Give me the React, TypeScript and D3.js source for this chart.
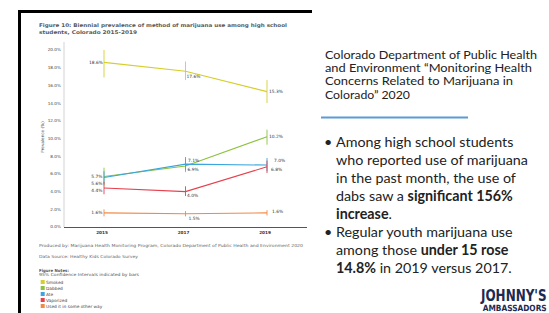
import React from 'react';
import * as d3 from 'd3';

// chart data
const years = ['2015', '2017', '2019'];
const seriesNames = ['Smoked', 'Dabbed', 'Ate', 'Vaporized', 'Used it in some other way'];
const seriesColors = ['#d6ce2c', '#8cc23e', '#3aa6dd', '#e6414e', '#f08a45'];

const smoked = [18.6, 17.6, 15.3];
const smokedLow = [16.9, 16.6, 14.0];
const smokedHigh = [20.0, 18.7, 16.6];

const dabbed = [5.7, 6.9, 10.2];
const dabbedLow = [4.7, 6.2, 9.3];
const dabbedHigh = [6.7, 7.7, 11.0];

const ate = [5.6, 7.1, 7.0];
const ateLow = [4.9, 6.4, 6.3];
const ateHigh = [6.3, 7.9, 7.8];

const vaporized = [4.4, 4.0, 6.8];
const vaporizedLow = [3.7, 3.5, 6.1];
const vaporizedHigh = [5.1, 4.6, 7.5];

const other = [1.6, 1.5, 1.6];
const otherLow = [1.2, 1.2, 1.3];
const otherHigh = [2.0, 1.8, 1.9];

const yTicks = [0, 2, 4, 6, 8, 10, 12, 14, 16, 18, 20];

const titleLines = [
  'Figure 10: Biennial prevalence of method of marijuana use among high school',
  'students, Colorado 2015-2019',
];
const footLines = [
  'Produced by: Marijuana Health Monitoring Program, Colorado Department of Public Health and Environment 2020',
  'Data Source: Healthy Kids Colorado Survey',
];
const noteLines = ['Figure Notes:', '95% Confidence Intervals indicated by bars'];

const headerLines = [
  'Colorado Department of Public Health',
  'and Environment \u201cMonitoring Health',
  'Concerns Related to Marijuana in',
  'Colorado\u201d 2020',
];
const headerWidths = [212, 207, 188, 85];

// label nudges (dx, dy) per series per year, layout only
const labelNudge = [
  [[-1, 0], [1, 5], [2, 0]],
  [[-1.5, 0], [2, 3.5], [2, 0]],
  [[-1.5, 6], [2.5, -4], [7, -5]],
  [[-1.5, 2.6], [1.5, 3.5], [4, 3]],
  [[-1.5, 0], [3, 4.5], [5, -1]],
];

const series = [
  { v: smoked, lo: smokedLow, hi: smokedHigh },
  { v: dabbed, lo: dabbedLow, hi: dabbedHigh },
  { v: ate, lo: ateLow, hi: ateHigh },
  { v: vaporized, lo: vaporizedLow, hi: vaporizedHigh },
  { v: other, lo: otherLow, hi: otherHigh },
];

export default function App() {
  const x = d3.scalePoint<string>().domain(years).range([104, 267]);
  const y = d3.scaleLinear().domain([0, 20]).range([227, 50]);
  const fmt = d3.format('.1f');
  const line = d3
    .line<number>()
    .x((d, i) => x(years[i]) as number)
    .y(d => y(d));

  const chartFont = 'DejaVu Sans, Verdana, sans-serif';
  const slideFont = 'Lato, Open Sans, sans-serif';

  return (
    <div>
      <style>{'body{margin:0}'}</style>
      <svg width={549} height={313} style={{ display: 'block', background: '#fff' }}>
        {/* frame of pasted figure */}
        <rect x={18} y={10} width={3} height={303} fill="#000" />
        <rect x={18} y={10} width={294} height={3} fill="#000" />

        {/* title */}
        {titleLines.map((t, i) => (
          <text
            key={i}
            x={39}
            y={27 + i * 7}
            fontFamily={chartFont}
            fontWeight="bold"
            fontSize={5}
            fill="#595959"
            textLength={i === 0 ? 248 : 98}
            lengthAdjust="spacingAndGlyphs"
          >
            {t}
          </text>
        ))}

        {/* axes */}
        <line x1={64} x2={64} y1={42} y2={227} stroke="#c8c8c8" strokeWidth={0.8} />
        <line x1={64} x2={307} y1={227.5} y2={227.5} stroke="#555" strokeWidth={1} />
        {yTicks.map(t => (
          <text
            key={t}
            x={61}
            y={y(t)}
            dy="0.35em"
            textAnchor="end"
            fontFamily={chartFont}
            fontSize={4.2}
            fill="#444"
          >
            {fmt(t) + '%'}
          </text>
        ))}
        <text
          transform={`translate(44,137) rotate(-90)`}
          textAnchor="middle"
          fontFamily={chartFont}
          fontSize={4.2}
          fill="#444"
        >
          Prevalence (%)
        </text>
        {years.map(yr => (
          <text
            key={yr}
            x={(x(yr) as number) - 2}
            y={234}
            textAnchor="middle"
            fontFamily={chartFont}
            fontWeight="bold"
            fontSize={4.2}
            fill="#333"
          >
            {yr}
          </text>
        ))}

        {/* series */}
        {series.map((s, si) => (
          <g key={si}>
            <path d={line(s.v) || ''} fill="none" stroke={seriesColors[si]} strokeWidth={1.1} />
            {years.map((yr, i) => (
              <line
                key={yr}
                x1={x(yr)}
                x2={x(yr)}
                y1={y(s.lo[i])}
                y2={y(s.hi[i])}
                stroke={seriesColors[si]}
                strokeWidth={0.9}
              />
            ))}
          </g>
        ))}
        {series.map((s, si) =>
          years.map((yr, i) => (
            <text
              key={si + '-' + yr}
              x={(x(yr) as number) + labelNudge[si][i][0]}
              y={y(s.v[i]) + labelNudge[si][i][1]}
              dy="0.35em"
              textAnchor={i === 0 ? 'end' : 'start'}
              fontFamily={chartFont}
              fontSize={4.4}
              fill="#333"
            >
              {fmt(s.v[i]) + '%'}
            </text>
          ))
        )}

        {/* footnotes */}
        {footLines.map((t, i) => (
          <text
            key={i}
            x={39}
            y={246.5 + i * 11}
            fontFamily={chartFont}
            fontSize={4.2}
            fill="#666"
            textLength={i === 0 ? 264 : 99}
            lengthAdjust="spacingAndGlyphs"
          >
            {t}
          </text>
        ))}
        {noteLines.map((t, i) => (
          <text
            key={i}
            x={39}
            y={272 + i * 3.6}
            fontFamily={chartFont}
            fontSize={4.2}
            fontWeight={i === 0 ? 'bold' : 'normal'}
            fill="#555"
            textLength={i === 0 ? 30 : 100}
            lengthAdjust="spacingAndGlyphs"
          >
            {t}
          </text>
        ))}
        {seriesNames.map((n, i) => (
          <g key={n}>
            <rect x={40.7} y={280 + i * 6} width={4} height={4} fill={seriesColors[i]} />
            <text
              x={46}
              y={282 + i * 6}
              dy="0.35em"
              fontFamily={chartFont}
              fontSize={4.3}
              fill="#444"
            >
              {n}
            </text>
          </g>
        ))}

        {/* slide text */}
        {headerLines.map((t, i) => (
          <text
            key={i}
            x={325}
            y={58.7 + i * 13.3}
            fontFamily={slideFont}
            fontSize={11}
            fill="#222"
            textLength={headerWidths[i]}
            lengthAdjust="spacingAndGlyphs"
          >
            {t}
          </text>
        ))}
        <line x1={321} x2={468} y1={117.5} y2={117.5} stroke="#5b9bd5" strokeWidth={2} />

        <g fontFamily={slideFont} fontSize={14.3} fill="#222">
          <text x={324} y={146.5}>{'\u2022'}</text>
          <text x={336} y={146.5}>Among high school students</text>
          <text x={336} y={164.5}>who reported use of marijuana</text>
          <text x={336} y={182.5}>in the past month, the use of</text>
          <text x={336} y={200.5}>
            dabs saw a <tspan fontWeight="bold">significant 156%</tspan>
          </text>
          <text x={336} y={218.5}>
            <tspan fontWeight="bold">increase</tspan>.
          </text>
          <text x={324} y={236.5}>{'\u2022'}</text>
          <text x={336} y={236.5}>Regular youth marijuana use</text>
          <text x={336} y={254.5}>
            among those <tspan fontWeight="bold">under 15 rose</tspan>
          </text>
          <text x={336} y={272.5}>
            <tspan fontWeight="bold">14.8%</tspan> in 2019 versus 2017.
          </text>
        </g>

        {/* logo */}
        <text
          transform="translate(481,301) scale(0.8,1)"
          fontFamily="DejaVu Sans Condensed, DejaVu Sans"
          fontWeight="bold"
          fontSize={16}
          fill="#1c2a52"
          textLength={82}
          lengthAdjust="spacingAndGlyphs"
        >
          JOHNNY'S
        </text>
        <text
          transform="translate(482.7,311) scale(0.8,1)"
          fontFamily="DejaVu Sans Condensed, DejaVu Sans"
          fontWeight="bold"
          fontSize={8.5}
          fill="#1c2a52"
          textLength={80}
          lengthAdjust="spacingAndGlyphs"
        >
          AMBASSADORS
        </text>
      </svg>
    </div>
  );
}
